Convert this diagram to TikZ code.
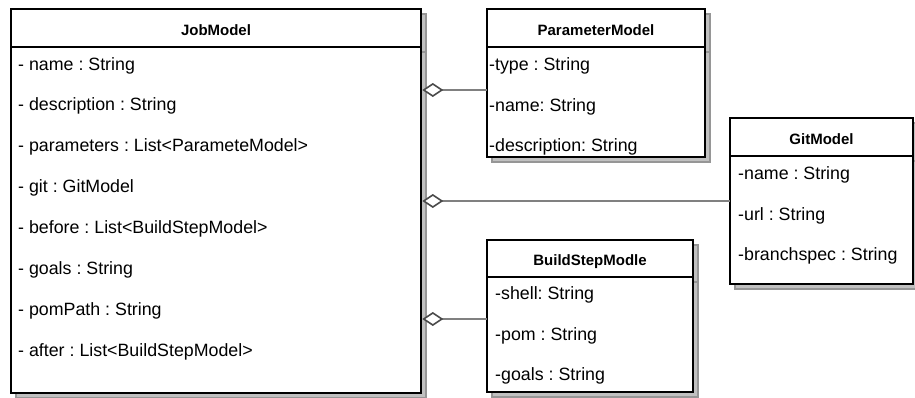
\documentclass[tikz,border=0pt]{standalone}
\usepackage{fontspec}
\setmainfont{Liberation Sans}
\usetikzlibrary{arrows.meta}
\frenchspacing
\definecolor{shfill}{HTML}{C0C0C0}
\definecolor{shline}{HTML}{969696}
\definecolor{conn}{HTML}{808080}
\definecolor{diam}{HTML}{4A4A4A}
\tikzset{
  clsbox/.style={draw=black, line width=2.5pt, fill=white, anchor=north west, inner sep=0pt, outer sep=0pt},
  shadowbox/.style={fill=shfill, draw=shline, line width=2.5pt},
  shadowline/.style={draw=shline, line width=2.5pt},
  divline/.style={draw=black, line width=2.5pt},
  hdr/.style={anchor=base, inner sep=0pt, font=\bfseries\fontsize{15}{18}\selectfont},
  attr/.style={anchor=base west, inner sep=0pt, font=\frenchspacing\fontsize{17.8}{20}\selectfont},
  agg/.style={draw=conn, line width=2pt, {Diamond[fill=white, color=diam, length=21pt, width=14pt, line width=1.6pt]}-},
}
\begin{document}
\begin{tikzpicture}[x=1pt, y=-1pt]
\useasboundingbox (0,0) rectangle (915,397);
% shadows
\draw[shadowbox] (16,14) rectangle (426,398);
\draw[shadowline] (16,52) -- (426,52);
\draw[shadowbox] (492,14) rectangle (710,162);
\draw[shadowline] (492,52) -- (710,52);
\draw[shadowbox] (735,123) rectangle (918,289);
\draw[shadowline] (735,161) -- (918,161);
\draw[shadowbox] (492,245) rectangle (698,397);
\draw[shadowline] (492,282) -- (698,282);
% JobModel
\node[clsbox, minimum width=410pt, minimum height=384pt] (job) at (11,9) {};
\draw[divline] (job.north west |- 0,47) -- (job.north east |- 0,47);
\node[hdr] (jobh) at (216,35.5) {JobModel};
\node[attr] (j1) at (18,70) {- name : String};
\node[attr] (j2) at (18,110.9) {- description : String};
\node[attr] (j3) at (18,151.7) {- parameters : List<ParameteModel>};
\node[attr] (j4) at (18,192.6) {- git : GitModel};
\node[attr] (j5) at (18,233.4) {- before : List<BuildStepModel>};
\node[attr] (j6) at (18,274.3) {- goals : String};
\node[attr] (j7) at (18,315.1) {- pomPath : String};
\node[attr] (j8) at (18,356) {- after : List<BuildStepModel>};
% ParameterModel
\node[clsbox, minimum width=218pt, minimum height=148pt] (param) at (487,9) {};
\draw[divline] (param.north west |- 0,47) -- (param.north east |- 0,47);
\node[hdr] (paramh) at (596,35.5) {ParameterModel};
\node[attr] (p1) at (489,70) {-type : String};
\node[attr] (p2) at (489,111) {-name: String};
\node[attr] (p3) at (489,151.7) {-description: String};
% GitModel
\node[clsbox, minimum width=183pt, minimum height=166pt] (git) at (730,118) {};
\draw[divline] (git.north west |- 0,156) -- (git.north east |- 0,156);
\node[hdr] (gith) at (821.5,144) {GitModel};
\node[attr] (g1) at (738,179) {-name : String};
\node[attr] (g2) at (738,220) {-url : String};
\node[attr] (g3) at (738,260.7) {-branchspec : String};
% BuildStepModle
\node[clsbox, minimum width=206pt, minimum height=152pt] (build) at (487,240) {};
\draw[divline] (build.north west |- 0,277) -- (build.north east |- 0,277);
\node[hdr] (buildh) at (590,265.3) {BuildStepModle};
\node[attr] (b1) at (495,299.3) {-shell: String};
\node[attr] (b2) at (495,340) {-pom : String};
\node[attr] (b3) at (495,380.7) {-goals : String};
% connectors
\coordinate (cp) at (487,90);
\coordinate (cg) at (730,201);
\coordinate (cb) at (487,319);
\draw[agg] ([xshift=1.3pt]cp -| job.east) -- (cp);
\draw[agg] ([xshift=1.3pt]cg -| job.east) -- (cg);
\draw[agg] ([xshift=1.3pt]cb -| job.east) -- (cb);
\end{tikzpicture}
\end{document}
